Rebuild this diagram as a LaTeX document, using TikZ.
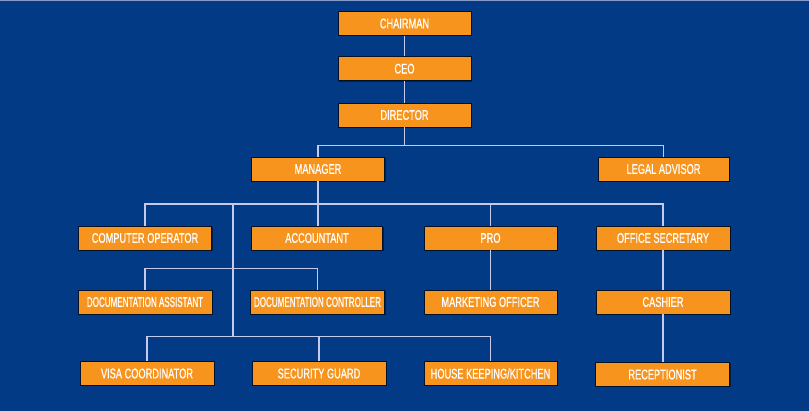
\documentclass[tikz,border=0pt]{standalone}
\usepackage{fontspec}
\usepackage{graphicx}
\setmainfont{Liberation Sans}
\newfontfamily\boxfont[FakeStretch=0.66, FakeBold=0.6]{Liberation Sans}
\usetikzlibrary{shadows}
\definecolor{bgblue}{HTML}{023A85}
\definecolor{boxorange}{HTML}{F7941E}
\definecolor{linecol}{HTML}{C4CAEC}
\definecolor{topline}{HTML}{8A9AC8}
\tikzset{
  orgbox/.style={rectangle, fill=boxorange, draw=black!70!bgblue, line width=0.5pt,
    minimum width=133pt, minimum height=24pt, inner sep=0pt, text=white,
    font=\boxfont\fontsize{14}{16}\selectfont,
    drop shadow={shadow xshift=1pt, shadow yshift=-1pt, fill=black, opacity=0.45}},
  conn/.style={draw=linecol, line width=1.2pt}
}
\begin{document}
\begin{tikzpicture}[x=1pt, y=-1pt]
\fill[bgblue] (0,0) rectangle (809,411);
\useasboundingbox (0,0) rectangle (809,411);
\draw[topline, line width=1.5pt] (0,0.75) -- (809,0.75);

\node[orgbox] (chairman) at (404.5,23.5) {CHAIRMAN};
\node[orgbox] (ceo) at (404.5,68.7) {CEO};
\node[orgbox] (director) at (404.5,115) {DIRECTOR};
\node[orgbox] (manager) at (318,169) {MANAGER};
\node[orgbox, minimum width=131pt] (legal) at (663.5,169) {LEGAL ADVISOR};

\node[orgbox] (comp) at (145,238) {COMPUTER OPERATOR};
\node[orgbox, minimum width=131pt] (acct) at (317,238) {ACCOUNTANT};
\node[orgbox] (pro) at (490.5,238) {PRO};
\node[orgbox, minimum width=134pt] (offsec) at (663,238) {OFFICE SECRETARY};

\node[orgbox, minimum width=134pt] (docass) at (145,302) {\scalebox{0.87}[1]{DOCUMENTATION ASSISTANT}};
\node[orgbox, minimum width=134pt] (docctl) at (317.5,302) {\scalebox{0.87}[1]{DOCUMENTATION CONTROLLER}};
\node[orgbox] (mkt) at (490.5,302) {MARKETING OFFICER};
\node[orgbox, minimum width=134pt] (cashier) at (663,302) {CASHIER};

\node[orgbox, minimum width=134pt] (visa) at (147,373.5) {VISA COORDINATOR};
\node[orgbox, minimum width=134pt] (guard) at (319,373.5) {SECURITY GUARD};
\node[orgbox] (house) at (490.5,373.5) {HOUSE KEEPING/KITCHEN};
\node[orgbox, minimum width=134pt] (recep) at (662.5,374.5) {RECEPTIONIST};

\coordinate (dj) at (404.5,145.7);
\coordinate (t1) at (233,204);
\coordinate (t2) at (233,268.7);
\coordinate (t3) at (233,336.7);

\draw[conn] (chairman.south) -- (ceo.north);
\draw[conn] (ceo.south) -- (director.north);
\draw[conn] (director.south) -- (dj);
\draw[conn] (manager.north) |- (dj) -| (legal.north);

\draw[conn] (manager.south) -- (manager.south |- acct.north);
\draw[conn] (comp.north) |- (t1) -| (offsec.north);
\draw[conn] (pro.north) -- (pro.north |- t1);
\draw[conn] (t1) -- (t3);
\draw[conn] (docass.north) |- (t2) -| (docctl.north);
\draw[conn] (visa.north) |- (t3) -| (house.north);
\draw[conn] (guard.north) -- (guard.north |- t3);

\draw[conn] (pro.south) -- (mkt.north);
\draw[conn] (offsec.south) -- (cashier.north);
\draw[conn] (cashier.south) -- (cashier.south |- recep.north);
\end{tikzpicture}
\end{document}
